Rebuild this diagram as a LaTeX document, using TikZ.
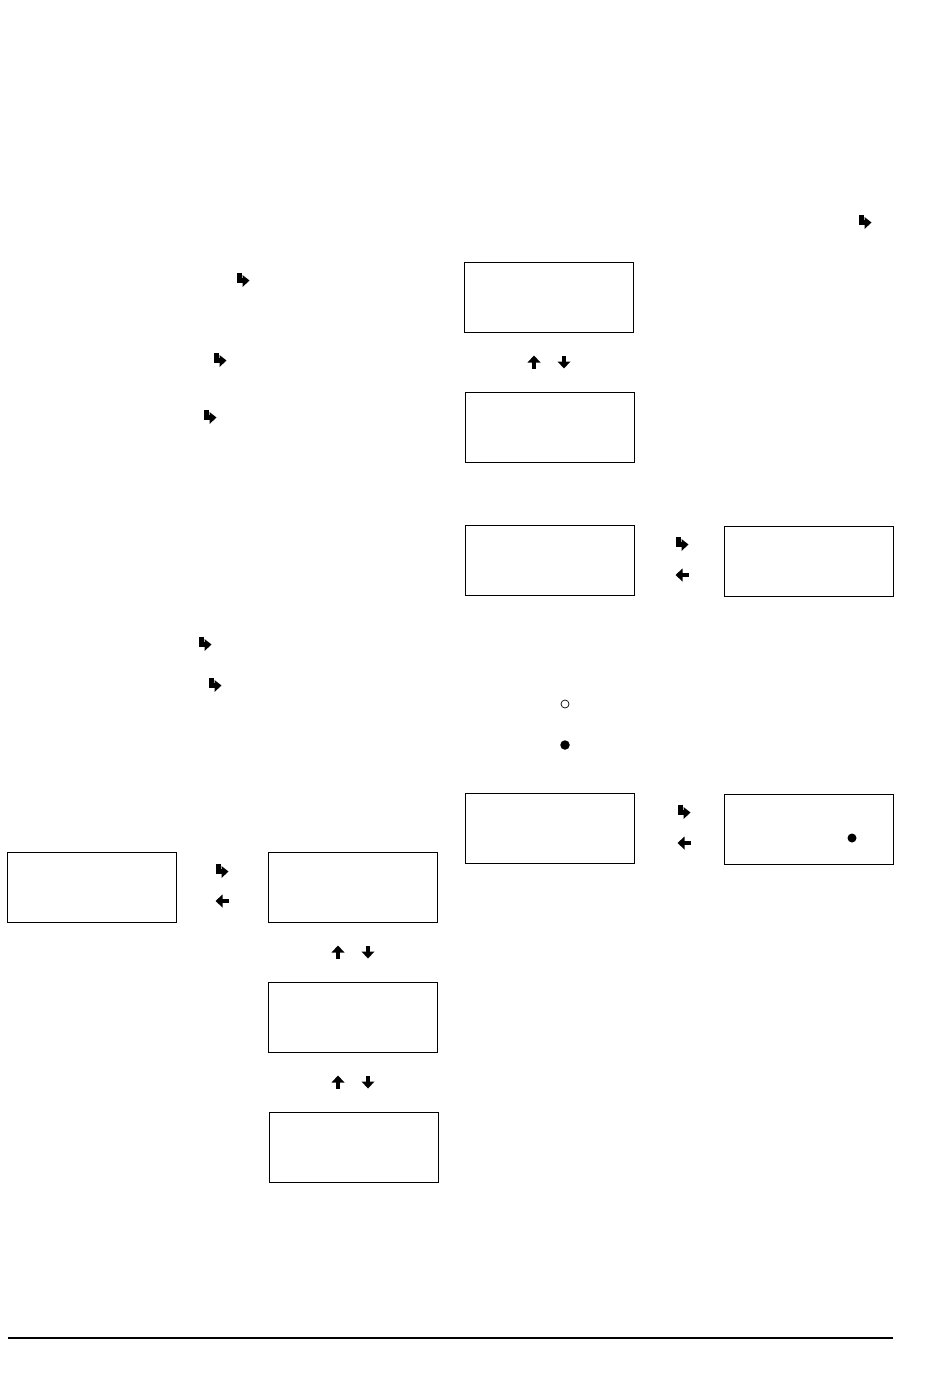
\documentclass[tikz,border=0pt]{standalone}
\usepackage{tikz}

\tikzset{
  screen/.style = {draw, line width=0.5pt, minimum width=3.38cm, minimum height=1.4cm, inner sep=0pt},
  pics/enterkey/.style = {code={
    \fill (-6,-7) rectangle (-1,3);
    \fill (-6,-2) rectangle (1,3);
    \fill (-0.5,-5) -- (6.5,0.5) -- (-0.5,7) -- cycle;
  }},
  pics/backkey/.style = {code={
    \fill (-1,-2.3) rectangle (6.5,2.3);
    \fill (-6.5,0) -- (0.5,-6.5) -- (0.5,6.5) -- cycle;
  }},
  pics/upkey/.style = {code={
    \fill (0,-6.5) -- (-6.5,0.5) -- (6.5,0.5) -- cycle;
    \fill (-2.3,-1) rectangle (2.3,6.5);
  }},
  pics/downkey/.style = {code={
    \fill (0,6.5) -- (-6.5,-0.5) -- (6.5,-0.5) -- cycle;
    \fill (-2.3,1) rectangle (2.3,-6.5);
  }}
}

\begin{document}
\begin{tikzpicture}[x=0.02cm, y=-0.02cm]
\useasboundingbox (0,0) rectangle (950,1379);

% screens, right column
\node[screen] (r1) at (549,297) {};
\node[screen] (r2) at (549.5,427) {};
\node[screen] (r3) at (549.5,560) {};
\node[screen] (r4) at (809,561) {};
\node[screen] (r5) at (549.5,828.5) {};
\node[screen] (r6) at (809,829) {};
\node[circle, fill, inner sep=0pt, minimum size=0.18cm] (dot6) at (852,838) {};

% screens, left column
\node[screen] (l1) at (91.5,887) {};
\node[screen] (l2) at (353,887) {};
\node[screen] (l3) at (353,1017) {};
\node[screen] (l4) at (354,1147) {};

% keys in the text
\pic (e1) at (865,222) {enterkey};
\pic (e2) at (243,280) {enterkey};
\pic (e3) at (220,360) {enterkey};
\pic (e4) at (210,417) {enterkey};
\pic (e5) at (205,644) {enterkey};
\pic (e6) at (215,685) {enterkey};
\pic (e7) at (222,871) {enterkey};
\pic (e8) at (682,544) {enterkey};
\pic (e9) at (684,812) {enterkey};

\pic (b1) at (222,901) {backkey};
\pic (b2) at (682,575) {backkey};
\pic (b3) at (684,843) {backkey};

\pic (u1) at (534,362) {upkey};
\pic (d1) at (564,362) {downkey};
\pic (u2) at (338,952) {upkey};
\pic (d2) at (368,952) {downkey};
\pic (u3) at (338,1082) {upkey};
\pic (d3) at (368,1082) {downkey};

\node[circle, draw, line width=0.4pt, inner sep=0pt, minimum size=0.16cm] (off) at (565,704) {};
\node[circle, fill, inner sep=0pt, minimum size=0.19cm] (on) at (565,745) {};

% footer rule
\coordinate (fl) at (8,1338);
\coordinate (fr) at (893,1338);
\draw[line width=0.7pt] (fl) -- (fr);
\end{tikzpicture}
\end{document}
